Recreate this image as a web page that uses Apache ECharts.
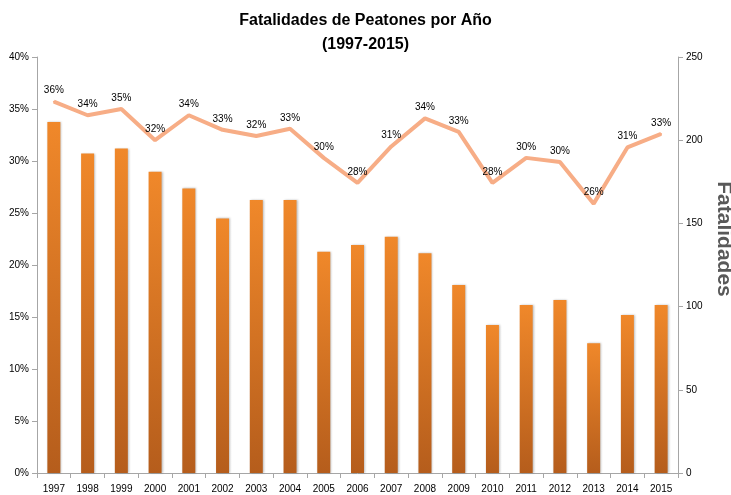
<!DOCTYPE html>
<html lang="es">
<head>
    <meta charset="UTF-8">
    <title>Fatalidades de Peatones por Año</title>
    <script src="https://cdn.jsdelivr.net/npm/echarts@6/dist/echarts.min.js"></script>
    <style>
        html, body { margin: 0; padding: 0; background: #fff; }
        #chart { width: 731px; height: 495px; }
    </style>
</head>
<body>
    <div id="chart"></div>
    <script>
        // años
        var years = ['1997', '1998', '1999', '2000', '2001', '2002', '2003', '2004', '2005', '2006',
            '2007', '2008', '2009', '2010', '2011', '2012', '2013', '2014', '2015'];

        // fatalidades (eje derecho)
        var fatalidades = [211, 192, 195, 181, 171, 153, 164, 164, 133, 137,
            142, 132, 113, 89, 101, 104, 78, 95, 101];

        // porcentaje (eje izquierdo)
        var porcentaje = [35.7, 34.4, 35.0, 32.0, 34.4, 33.0, 32.4, 33.1, 30.3, 27.9,
            31.4, 34.1, 32.8, 27.9, 30.3, 29.9, 25.9, 31.3, 32.6];

        var pctTicks = [0, 5, 10, 15, 20, 25, 30, 35, 40];

        var axisGray = '#a6a6a6';
        var fontFam = '"Liberation Sans", "DejaVu Sans", sans-serif';

        var chart = echarts.init(document.getElementById('chart'));

        chart.setOption({
            backgroundColor: '#ffffff',
            animation: false,
            title: {
                text: 'Fatalidades de Peatones por Año\n(1997-2015)',
                left: 'center',
                top: 4,
                textStyle: {
                    fontFamily: fontFam,
                    fontSize: 16,
                    fontWeight: 'bold',
                    color: '#000',
                    lineHeight: 24
                }
            },
            grid: {
                left: 37,
                right: 53,
                top: 57,
                bottom: 22,
                containLabel: false,
                outerBoundsMode: 'none'
            },
            xAxis: {
                type: 'category',
                data: years,
                boundaryGap: true,
                axisLine: { lineStyle: { color: axisGray } },
                axisTick: { show: true, alignWithLabel: false, length: 5, lineStyle: { color: axisGray } },
                axisLabel: { color: '#000', fontSize: 10, fontFamily: fontFam, margin: 11, interval: 0 }
            },
            yAxis: [
                {
                    type: 'value',
                    position: 'left',
                    min: pctTicks[0],
                    max: pctTicks[pctTicks.length - 1],
                    interval: 5,
                    splitLine: { show: false },
                    axisLine: { show: true, lineStyle: { color: axisGray } },
                    axisTick: { show: true, length: 5, lineStyle: { color: axisGray } },
                    axisLabel: {
                        color: '#000', fontSize: 10, fontFamily: fontFam, margin: 8,
                        formatter: function (v) { return v + '%'; }
                    }
                },
                {
                    type: 'value',
                    position: 'right',
                    min: 0,
                    max: 250,
                    interval: 50,
                    splitLine: { show: false },
                    axisLine: { show: true, lineStyle: { color: axisGray } },
                    axisTick: { show: true, length: 5, lineStyle: { color: axisGray } },
                    axisLabel: { color: '#000', fontSize: 10, fontFamily: fontFam, margin: 8 },
                    name: 'Fatalidades',
                    nameLocation: 'middle',
                    nameRotate: -90,
                    nameGap: 32,
                    nameTextStyle: {
                        color: '#595959',
                        fontSize: 21,
                        fontWeight: 'bold',
                        fontFamily: fontFam,
                        padding: [0, 52, 0, 0]
                    }
                }
            ],
            series: [
                {
                    name: 'Fatalidades',
                    type: 'bar',
                    yAxisIndex: 1,
                    data: fatalidades,
                    barWidth: 13,
                    itemStyle: {
                        color: new echarts.graphic.LinearGradient(0, 0, 0, 1, [
                            { offset: 0, color: '#f0882a' },
                            { offset: 1, color: '#b55d1c' }
                        ]),
                        shadowColor: 'rgba(0,0,0,0.25)',
                        shadowBlur: 2,
                        shadowOffsetX: 1
                    }
                },
                {
                    name: 'Porcentaje',
                    type: 'line',
                    yAxisIndex: 0,
                    data: porcentaje,
                    symbol: 'circle',
                    symbolSize: 2,
                    showSymbol: true,
                    itemStyle: { color: '#f7ad86', borderWidth: 0 },
                    lineStyle: { color: '#f7ad86', width: 4 },
                    label: {
                        show: true,
                        position: 'top',
                        distance: 5,
                        color: '#000',
                        fontSize: 10,
                        fontFamily: fontFam,
                        formatter: function (p) { return Math.round(p.value) + '%'; }
                    },
                    labelLayout: { hideOverlap: false },
                    z: 3
                }
            ]
        });
    </script>
</body>
</html>
